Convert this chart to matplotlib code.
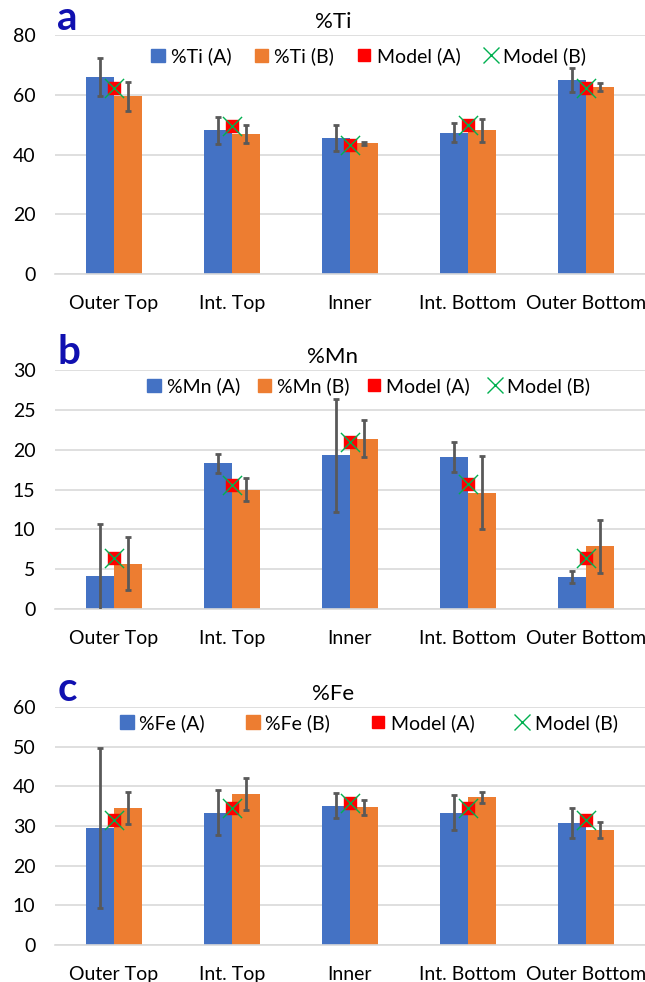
import numpy as np
import matplotlib.pyplot as plt
from matplotlib.lines import Line2D
from matplotlib.patches import Patch

# -------- DATA ----------
CATEGORIES = ["Outer Top", "Int. Top", "Inner", "Int. Bottom", "Outer Bottom"]

ti_a = [66.1, 48.2, 45.6, 47.4, 65.0]
ti_a_err = [6.3, 4.5, 4.5, 3.1, 4.0]
ti_b = [59.5, 46.9, 43.8, 48.2, 62.7]
ti_b_err = [4.7, 2.9, 0.5, 3.9, 1.4]
ti_model = [62.2, 49.7, 43.2, 49.8, 62.2]

mn_a = [4.1, 18.3, 19.3, 19.05, 4.0]
mn_a_err = [6.6, 1.17, 7.07, 1.87, 0.8]
mn_b = [5.7, 15.0, 21.4, 14.6, 7.85]
mn_b_err = [3.35, 1.5, 2.37, 4.57, 3.3]
mn_model = [6.4, 15.6, 21.0, 15.65, 6.4]

fe_a = [29.5, 33.4, 35.1, 33.4, 30.8]
fe_a_err = [20.2, 5.6, 3.1, 4.4, 3.8]
fe_b = [34.6, 38.0, 34.7, 37.2, 29.1]
fe_b_err = [4.0, 4.0, 1.9, 1.45, 2.0]
fe_model = [31.5, 34.6, 35.7, 34.6, 31.5]
# ------------------------

BLUE = "#4472C4"
ORANGE = "#ED7D31"
GRID = "#D9D9D9"
ERR = "#595959"
LETTER = "#1010B0"

plt.rcParams['font.family'] = ['Lato', 'DejaVu Sans']

fig = plt.figure(figsize=(6.45, 9.82), dpi=100)

# letter, title, A, A err, B, B err, model, ymax, step, axes rect, legend y, column spacing
panels = [
    ("a", "%Ti", ti_a, ti_a_err, ti_b, ti_b_err, ti_model, 80, 20,
     [0.085, 0.721, 0.915, 0.243], 0.912, 1.2),
    ("b", "%Mn", mn_a, mn_a_err, mn_b, mn_b_err, mn_model, 30, 5,
     [0.085, 0.380, 0.915, 0.243], 0.933, 0.9),
    ("c", "%Fe", fe_a, fe_a_err, fe_b, fe_b_err, fe_model, 60, 10,
     [0.085, 0.0377, 0.915, 0.2423], 0.933, 2.1),
]

x = np.arange(len(CATEGORIES))
w = 0.24

for letter, name, a, aerr, b, berr, model, ymax, step, rect, leg_y, colsp in panels:
    ax = fig.add_axes(rect)
    ax.bar(x - w / 2, a, w, color=BLUE, zorder=2)
    ax.bar(x + w / 2, b, w, color=ORANGE, zorder=2)
    ax.errorbar(x - w / 2, a, yerr=aerr, fmt="none", ecolor=ERR, elinewidth=2,
                capsize=2.5, capthick=2, zorder=3)
    ax.errorbar(x + w / 2, b, yerr=berr, fmt="none", ecolor=ERR, elinewidth=2,
                capsize=2.5, capthick=2, zorder=3)
    ax.scatter(x, model, marker="s", s=70, color="#FF0000", zorder=4)
    ax.scatter(x, model, marker="x", s=190, color="#00B050", linewidths=1, zorder=5)

    ax.set_xlim(-0.5, 4.5)
    ax.set_ylim(0, ymax)
    ax.set_yticks(np.arange(0, ymax + 1, step))
    ax.set_xticks(x)
    ax.set_xticklabels(CATEGORIES)
    ax.tick_params(axis="both", length=0, labelsize=14, colors="black")
    ax.tick_params(axis="x", pad=15)
    ax.tick_params(axis="y", pad=14)
    ax.grid(axis="y", color=GRID, linewidth=1.2, zorder=0)
    ax.set_axisbelow(True)
    for s in ["top", "right", "left"]:
        ax.spines[s].set_visible(False)
    ax.spines["bottom"].set_color(GRID)
    ax.spines["bottom"].set_linewidth(1.2)

    ax.set_title(name, fontsize=16, pad=5, x=0.471)
    ax.text(0.004, 0.995, letter, transform=ax.transAxes, fontsize=29, fontweight="bold",
            color=LETTER, va="bottom", ha="left")

    handles = [
        Patch(color=BLUE, label=f"{name} (A)"),
        Patch(color=ORANGE, label=f"{name} (B)"),
        Line2D([], [], marker="s", color="#FF0000", linestyle="none", markersize=8, label="Model (A)"),
        Line2D([], [], marker="x", color="#00B050", linestyle="none", markersize=11,
               markeredgewidth=1, label="Model (B)"),
    ]
    ax.legend(handles=handles, loc="center", bbox_to_anchor=(0.532, leg_y), ncol=4,
              frameon=False, fontsize=14, handlelength=0.7, handleheight=0.7,
              handletextpad=0.3, columnspacing=colsp, borderpad=0.1)

fig.savefig("out.png", dpi=100)
